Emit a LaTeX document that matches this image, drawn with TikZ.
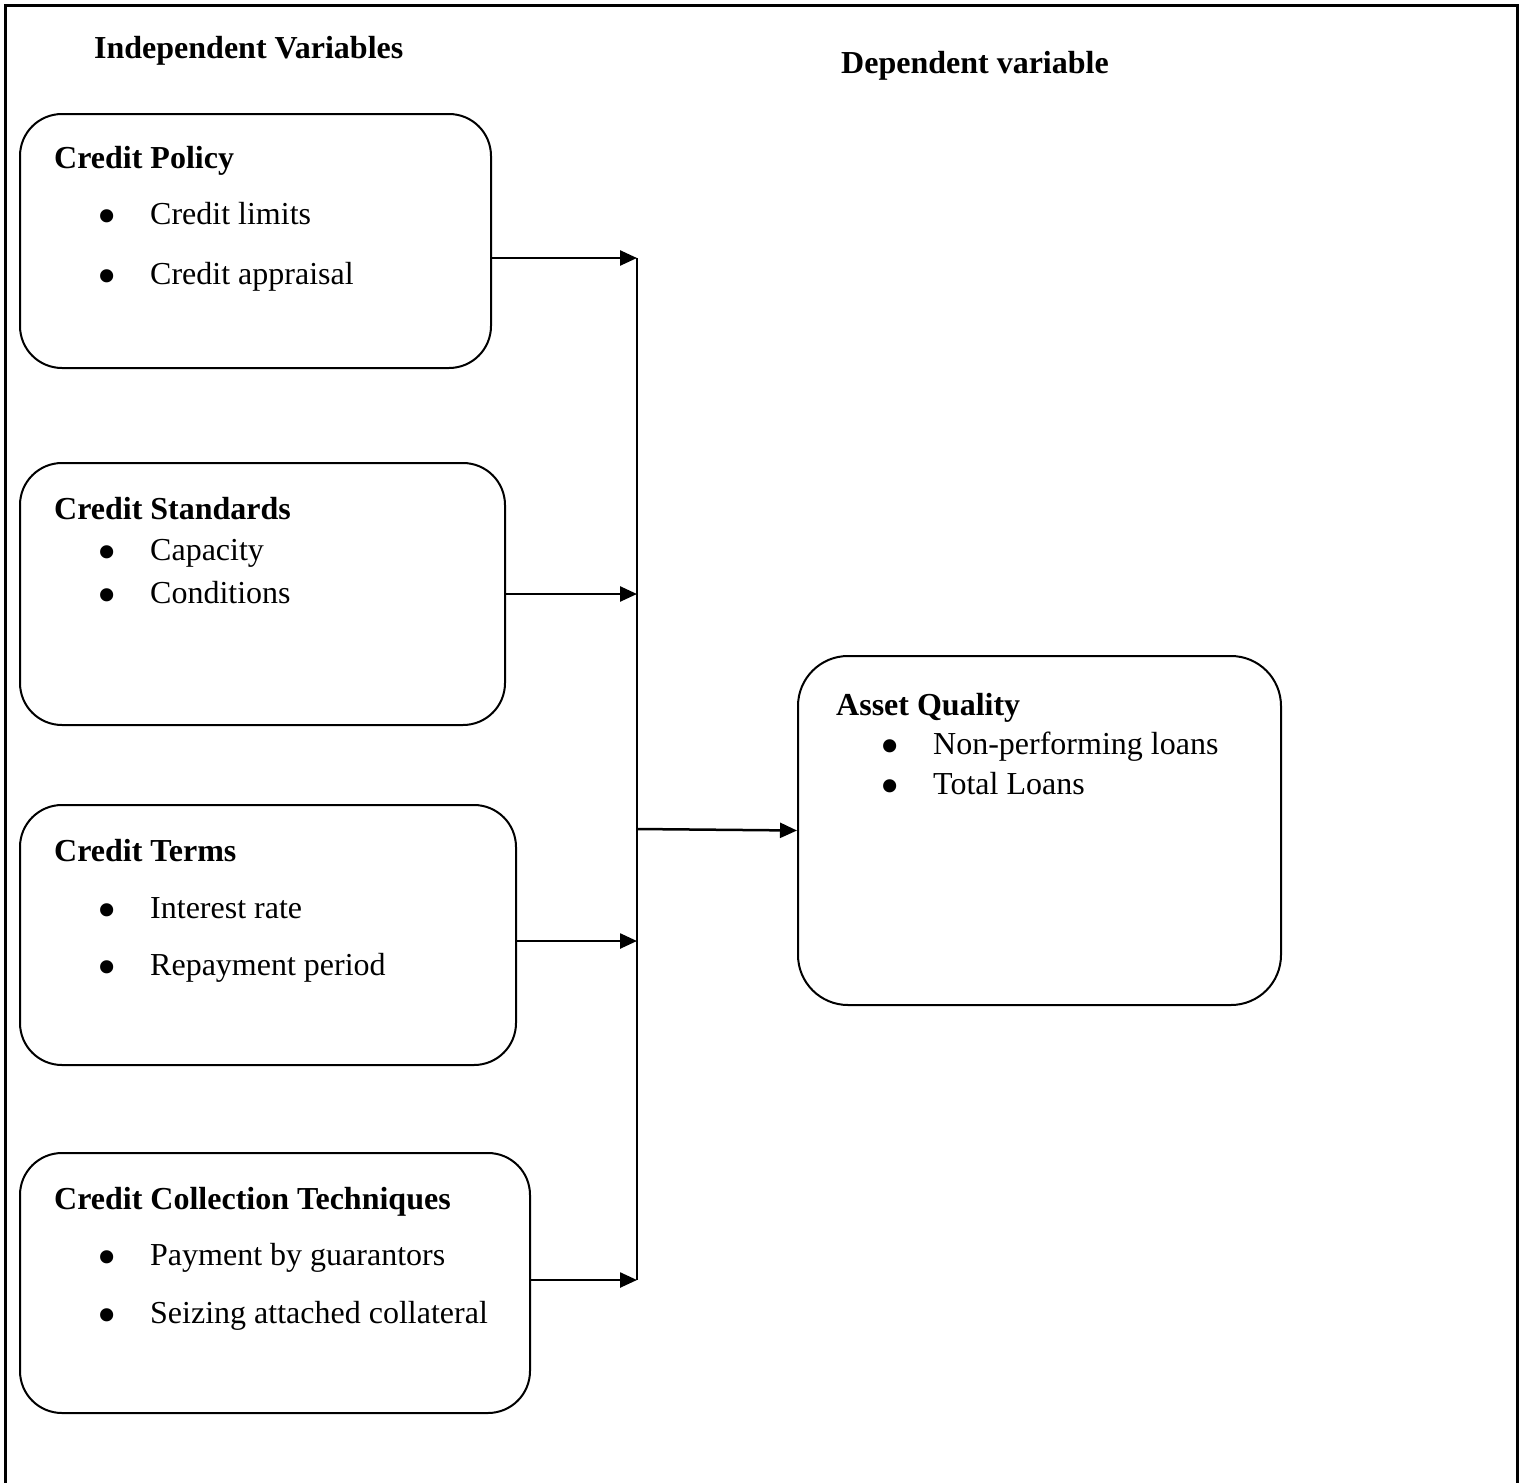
\documentclass[tikz,border=0pt]{standalone}
\usepackage{fontspec}
\setmainfont{Liberation Serif}
\usetikzlibrary{arrows.meta}
\begin{document}
\begin{tikzpicture}[x=1pt,y=-1pt,
  box/.style={draw,line width=2pt,rounded corners=42pt,inner sep=0pt},
  lbl/.style={anchor=base west,inner sep=0pt,font=\fontsize{32}{38}\selectfont},
  head/.style={lbl,font=\fontsize{32}{38}\selectfont\bfseries},
  bul/.style={anchor=base,inner sep=0pt,font=\fontsize{55}{60}\selectfont},
  arr/.style={line width=2.5pt,-{Triangle[length=17pt,width=15pt]}},
  trunk/.style={line width=2pt}]
\useasboundingbox (0,0) rectangle (1526,1483);
\draw[line width=3pt] (5,1483) -- (5,5) -- (1517,5) -- (1517,1483);

\node[head] (hind) at (94,58) {Independent Variables};
\node[head] (hdep) at (841,73) {Dependent variable};

\node[box,minimum width=471pt,minimum height=254pt] (b1) at (255.5,241) {};
\node[box,minimum width=485pt,minimum height=262pt] (b2) at (262.5,594) {};
\node[box,minimum width=496pt,minimum height=260pt] (b3) at (268,935) {};
\node[box,minimum width=510pt,minimum height=260pt] (b4) at (275,1283) {};
\node[box,rounded corners=50pt,minimum width=483pt,minimum height=349pt] (b5) at (1039.5,830.5) {};

% Box 1
\node[head] (t1h) at (54,168) {Credit Policy};
\node[bul] (t1b1) at (107,234) {•};
\node[lbl] (t1a) at (150,224) {Credit limits};
\node[bul] (t1b2) at (107,294) {•};
\node[lbl] (t1c) at (150,284) {Credit appraisal};
% Box 2
\node[head] (t2h) at (54,519) {Credit Standards};
\node[bul] (t2b1) at (107,570) {•};
\node[lbl] (t2a) at (150,560) {Capacity};
\node[bul] (t2b2) at (107,613) {•};
\node[lbl] (t2c) at (150,603) {Conditions};
% Box 3
\node[head] (t3h) at (54,861) {Credit Terms};
\node[bul] (t3b1) at (107,928) {•};
\node[lbl] (t3a) at (150,918) {Interest rate};
\node[bul] (t3b2) at (107,985) {•};
\node[lbl] (t3c) at (150,975) {Repayment period};
% Box 4
\node[head] (t4h) at (54,1209) {Credit Collection Techniques};
\node[bul] (t4b1) at (107,1275) {•};
\node[lbl] (t4a) at (150,1265) {Payment by guarantors};
\node[bul] (t4b2) at (107,1333) {•};
\node[lbl] (t4c) at (150,1323) {Seizing attached collateral};
% Box 5
\node[head] (t5h) at (836,715) {Asset Quality};
\node[bul] (t5b1) at (890,764) {•};
\node[lbl] (t5a) at (933,754) {Non-performing loans};
\node[bul] (t5b2) at (890,804) {•};
\node[lbl] (t5c) at (933,794) {Total Loans};

% connectors
\coordinate (j1) at (637,258);
\coordinate (j2) at (637,594);
\coordinate (j3) at (637,941);
\coordinate (j4) at (637,1280);
\coordinate (jm) at (637,829);
\draw[trunk] (j1) -- (j4);
\draw[arr] (b1.east |- j1) -- (j1);
\draw[arr] (b2.east |- j2) -- (j2);
\draw[arr] (b3.east |- j3) -- (j3);
\draw[arr] (b4.east |- j4) -- (j4);
\draw[arr] (jm) -- (b5.west);
\end{tikzpicture}
\end{document}
